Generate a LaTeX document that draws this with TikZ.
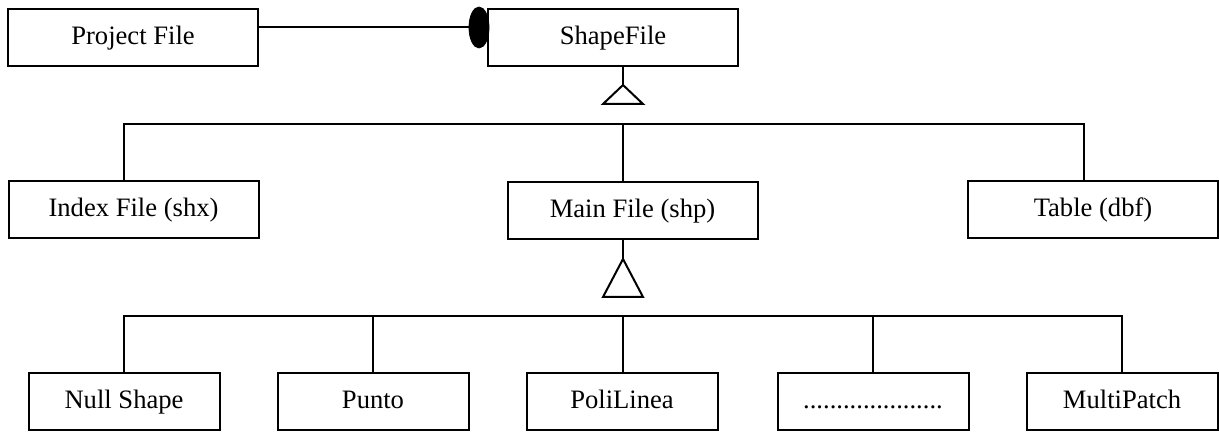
\documentclass[tikz,border=0pt]{standalone}
\usepackage{fontspec}
\setmainfont{Liberation Serif}
\usetikzlibrary{shapes.geometric}
\begin{document}
\begin{tikzpicture}[x=0.5pt,y=-0.5pt,
  box/.style={draw,line width=1pt,minimum height=28.5pt,inner sep=0pt,text height=0.66em,text depth=0pt,font=\fontsize{13.3}{15}\selectfont,fill=white},
  wbox/.style={box,minimum width=125pt},
  sbox/.style={box,minimum width=95.5pt},
  conn/.style={line width=1pt},
  thin/.style={line width=0.6pt},
  tri/.style={line width=1pt,fill=white,line join=miter}]
\useasboundingbox (0,0) rectangle (1219,432);
% top row
\node[wbox] (PF) at (133,37.5) {Project File};
\node[wbox] (SF) at (613,37.5) {ShapeFile};
\node[ellipse,fill=black,draw=black,minimum width=10pt,minimum height=20.5pt,inner sep=0pt] (ell) at (479,27.5) {};
% middle row
\node[wbox] (IF) at (133.5,209.5) {Index File (shx)};
\node[wbox] (MF) at (632.5,210.5) {Main File (shp)};
\node[wbox] (TB) at (1093,209.5) {Table (dbf)};
% bottom row
\node[sbox] (NS) at (124,401.5) {Null Shape};
\node[sbox] (PU) at (373,401.5) {Punto};
\node[sbox] (PL) at (622,401.5) {PoliLinea};
\node[sbox] (DT) at (873,401.5) {.....................};
\node[sbox] (MP) at (1122,401.5) {MultiPatch};
% coordinates
\coordinate (t1) at (623,85);
\coordinate (b1) at (623,124);
\coordinate (t2) at (623,259);
\coordinate (b2) at (623,316);
% association
\draw[conn] (PF.east |- ell) -- (ell.west);
% first generalization
\draw[conn] (SF.south -| t1) -- (t1);
\draw[conn] (b1) -- (MF.north -| b1);
\draw[conn] (IF.north -| 124,0) |- (b1) -| (TB.north -| 1084,0);
\draw[tri] (t1) -- ++(-20,19) -- ++(40,0) -- cycle;
% second generalization
\draw[conn] (MF.south -| t2) -- (t2);
\draw[conn] (b2) -- (PL.north -| b2);
\draw[conn] (NS.north) |- (b2) -| (MP.north);
\draw[thin] (PU.north) -- (PU.north |- b2);
\draw[thin] (DT.north) -- (DT.north |- b2);
\draw[tri] (t2) -- ++(-20,38) -- ++(40,0) -- cycle;
\end{tikzpicture}
\end{document}
